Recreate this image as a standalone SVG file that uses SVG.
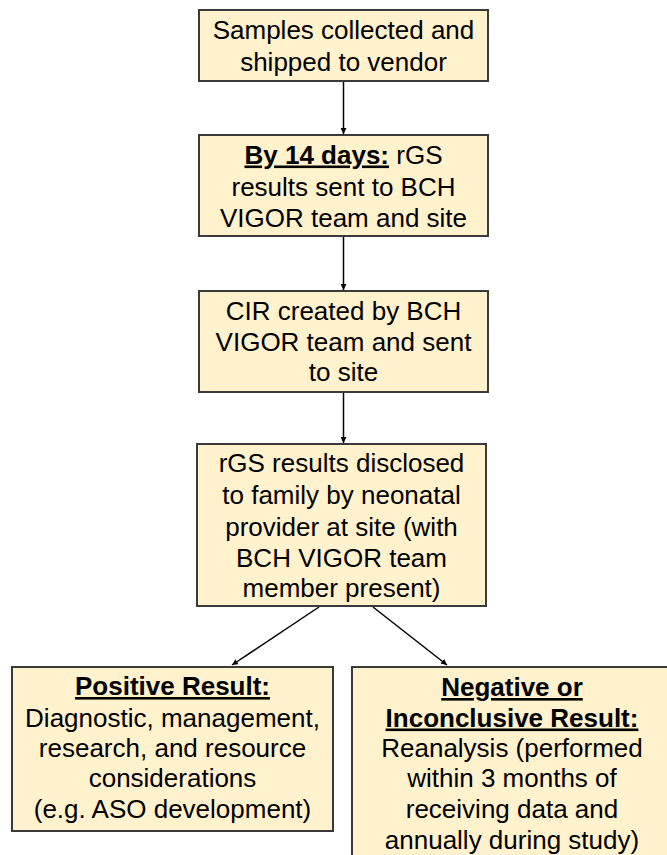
<svg xmlns="http://www.w3.org/2000/svg" width="667" height="855" viewBox="0 0 667 855">
<style>
.box{fill:#FFF2CC;stroke:#3a3a3a;stroke-width:2}
.t{font-family:"Liberation Sans",Arial,Helvetica,sans-serif;font-size:26px;fill:#000;text-anchor:middle}
.b{font-weight:bold;text-decoration:underline}
.c{stroke:#000;stroke-width:1.5;fill:none;marker-end:url(#ah)}
</style>
<defs>
<marker id="ah" viewBox="0 0 10 10" refX="10" refY="5" markerWidth="4" markerHeight="4" orient="auto" markerUnits="strokeWidth">
<path d="M0,0 L10,5 L0,10 z" fill="#000"/>
</marker>
</defs>
<rect width="667" height="855" fill="#fff"/>
<g id="connectors">
<line class="c" x1="343.5" y1="81" x2="343.5" y2="134"/>
<line class="c" x1="343.5" y1="237" x2="343.5" y2="290"/>
<line class="c" x1="343.5" y1="393" x2="343.5" y2="443"/>
<line class="c" x1="319" y1="607" x2="232" y2="665"/>
<line class="c" x1="373" y1="607" x2="447" y2="665"/>
</g>
<g id="n1">
<rect class="box" x="199" y="10" width="289" height="71"/>
<text class="t"><tspan x="343.5" y="38.5">Samples collected and</tspan><tspan x="343.5" y="70.5">shipped to vendor</tspan></text>
</g>
<g id="n2">
<rect class="box" x="199" y="135" width="289" height="101"/>
<text class="t"><tspan x="343.5" y="163.5"><tspan class="b">By 14 days:</tspan> rGS</tspan><tspan x="343.5" y="195.5">results sent to BCH</tspan><tspan x="343.5" y="227">VIGOR team and site</tspan></text>
</g>
<g id="n3">
<rect class="box" x="199" y="291" width="289" height="101"/>
<text class="t"><tspan x="343.5" y="319.5">CIR created by BCH</tspan><tspan x="343.5" y="351">VIGOR team and sent</tspan><tspan x="343.5" y="381">to site</tspan></text>
</g>
<g id="n4">
<rect class="box" x="197" y="444" width="289" height="162"/>
<text class="t"><tspan x="341.5" y="472">rGS results disclosed</tspan><tspan x="341.5" y="504">to family by neonatal</tspan><tspan x="341.5" y="536">provider at site (with</tspan><tspan x="341.5" y="566.5">BCH VIGOR team</tspan><tspan x="341.5" y="597">member present)</tspan></text>
</g>
<g id="n5">
<rect class="box" x="12" y="667" width="321" height="164"/>
<text class="t"><tspan x="172.5" y="695" class="b">Positive Result:</tspan><tspan x="172.5" y="726.5">Diagnostic, management,</tspan><tspan x="172.5" y="757">research, and resource</tspan><tspan x="172.5" y="787">considerations</tspan><tspan x="172.5" y="818">(e.g. ASO development)</tspan></text>
</g>
<g id="n6">
<rect class="box" x="352" y="667" width="322" height="200"/>
<text class="t"><tspan x="512" y="696" class="b">Negative or</tspan><tspan x="512" y="726.5" class="b">Inconclusive Result:</tspan><tspan x="512" y="757">Reanalysis (performed</tspan><tspan x="512" y="787">within 3 months of</tspan><tspan x="512" y="818">receiving data and</tspan><tspan x="512" y="848.5">annually during study)</tspan></text>
</g>
</svg>
